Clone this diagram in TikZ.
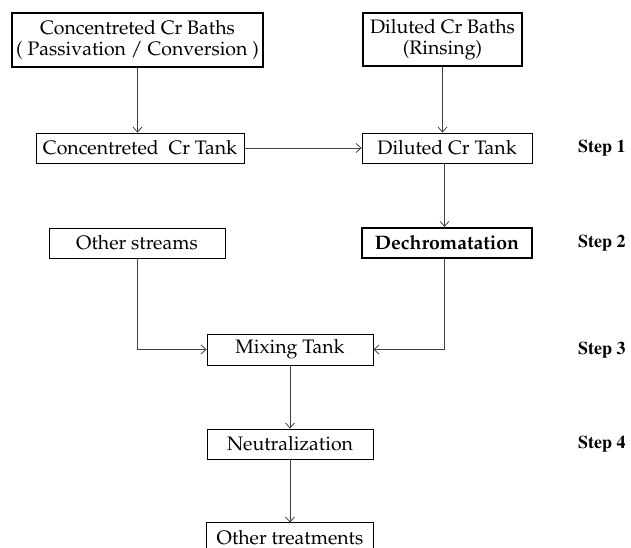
\documentclass[tikz,border=0pt]{standalone}
\usepackage[T1]{fontenc}
\usetikzlibrary{arrows.meta}
\begin{document}
\begin{tikzpicture}[x=1pt,y=-1pt,
  box/.style={draw=black,line width=0.8pt,rectangle,inner sep=0pt,align=center,
    font=\fontfamily{ppl}\fontsize{19.5}{21}\selectfont},
  thickbox/.style={box,line width=2.2pt},
  conn/.style={draw=black!75,line width=0.9pt,-{Straight Barb[length=5pt,width=9pt,line width=0.8pt]}},
  steplbl/.style={anchor=west,inner sep=0pt,font=\fontfamily{ptm}\fontsize{18}{20}\bfseries\selectfont}]
\useasboundingbox (0,0) rectangle (631,548);
\clip (0,0) rectangle (631,548);
\node[thickbox,minimum width=251pt,minimum height=54pt] (cb) at (137.5,40) {Concentreted Cr Baths\\( Passivation / Conversion )};
\node[thickbox,minimum width=159pt,minimum height=53pt] (db) at (442.5,39.5) {Diluted Cr Baths\\(Rinsing)};
\node[box,minimum width=208pt,minimum height=30pt] (ct) at (140,148) {Concentreted\ \ Cr Tank};
\node[box,minimum width=170pt,minimum height=30pt] (dt) at (447,148) {Diluted Cr Tank};
\node[box,minimum width=176pt,minimum height=30pt] (os) at (137,243) {Other streams};
\node[thickbox,minimum width=170pt,minimum height=30pt] (de) at (447,243) {\bfseries Dechromatation};
\node[box,minimum width=166pt,minimum height=31pt] (mt) at (290,349.5) {Mixing Tank};
\node[box,minimum width=166pt,minimum height=30pt] (ne) at (290,444) {Neutralization};
\node[box,draw=none,minimum width=166pt,minimum height=25pt,text height=17pt,text depth=0pt] (ot) at (290,535.5) {Other treatments};
\draw[line width=0.8pt] (ot.south west) -- (ot.north west) -- (ot.north east) -- (ot.south east);
\node[steplbl] (s1) at (578,148) {Step 1};
\node[steplbl] (s2) at (578,243) {Step 2};
\node[steplbl] (s3) at (578,350) {Step 3};
\node[steplbl] (s4) at (578,444) {Step 4};
\coordinate (vx) at (444.5,0);
\draw[conn] (cb.south) -- (cb.south |- ct.north);
\draw[conn] (db.south) -- (db.south |- dt.north);
\draw[conn] (ct.east) -- (dt.west);
\draw[conn] (dt.south -| vx) -- (de.north -| vx);
\draw[conn] (os.south) |- (mt.west);
\draw[conn] (de.south -| vx) |- (mt.east);
\draw[conn] (mt.south) -- (ne.north);
\draw[conn] (ne.south) -- (ot.north);
\end{tikzpicture}
\end{document}
